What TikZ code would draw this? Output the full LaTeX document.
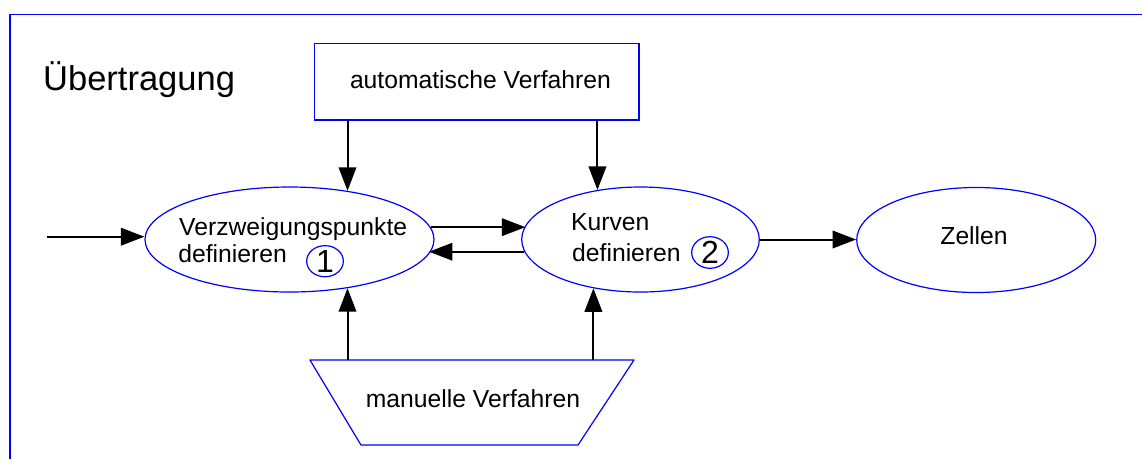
\documentclass[tikz,border=0pt]{standalone}
\usepackage{fontspec}
\setmainfont{Liberation Sans}
\usetikzlibrary{arrows.meta,shapes.geometric}
\begin{document}
\begin{tikzpicture}[x=1pt,y=1pt,
  line/.style={draw=blue, line width=1.2pt},
  proc/.style={line, ellipse, inner sep=0pt, minimum height=105pt},
  txt/.style={inner sep=0pt, anchor=base west, font=\fontsize{24.7}{29}\selectfont},
  num/.style={line, ellipse, inner sep=0pt, minimum width=36.7pt, minimum height=31pt,
              font=\fontsize{32}{36}\selectfont},
  arr/.style={line width=2pt, -{Triangle[length=23.5pt,width=17.5pt]}}]
\useasboundingbox (0,0) rectangle (1142,-459);

% outer frame (top and left edges)
\draw[line] (10,-459) -- (10,-14.5) -- (1142,-14.5);
\node[txt, font=\fontsize{34.5}{40}\selectfont] (title) at (43,-90) {Übertragung};

% automatic procedures
\node[line, rectangle, inner sep=0pt, minimum width=324.3pt, minimum height=76.7pt] (auto) at (476.85,-81.65) {};
\node[txt] (autot) at (349.8,-88.3) {automatische Verfahren};

% step 1
\node[proc, minimum width=289pt] (v1) at (289.5,-239.5) {};
\node[txt] (v1a) at (179,-235) {Verzweigungspunkte};
\node[txt] (v1b) at (178.2,-262.7) {definieren};
\node[num] (n1) at (325,-261.2) {1};

% step 2
\node[proc, minimum width=237.6pt] (v2) at (640.5,-239.5) {};
\node[txt] (v2a) at (570.9,-230.7) {Kurven};
\node[txt] (v2b) at (572,-261.7) {definieren};
\node[num] (n2) at (710,-252.5) {2};

% result
\node[proc, minimum width=239pt] (zel) at (976.2,-240) {};
\node[txt] (zelt) at (940.2,-244) {Zellen};

% manual procedures (inverted trapezoid)
\coordinate (manTL) at (310,-360);
\coordinate (manTR) at (634,-360);
\coordinate (manBR) at (578,-445);
\coordinate (manBL) at (361,-445);
\draw[line, line join=round] (manTL) -- (manTR) -- (manBR) -- (manBL) -- cycle;
\node[txt] (mant) at (365.7,-407.3) {manuelle Verfahren};

% connectors
\coordinate (src) at (46.7,-236.7);
\draw[arr] (src) -- (src -| v1.west);
\draw[arr] (v1.5.2) -- (v1.5.2 -| v2.173.7);
\draw[arr] (v2.186.3) -- (v2.186.3 -| v1.354.8);
\draw[arr] (v2.east) -- (v2.east -| zel.west);
\draw[arr] (auto.south -| v1.40.5) -- (v1.40.5);
\draw[arr] (auto.south -| v2.131.15) -- (v2.131.15);
\draw[arr] (manTL -| v1.-40.5) -- (v1.-40.5);
\draw[arr] (manTL -| v2.226.8) -- (v2.226.8);
\end{tikzpicture}
\end{document}
